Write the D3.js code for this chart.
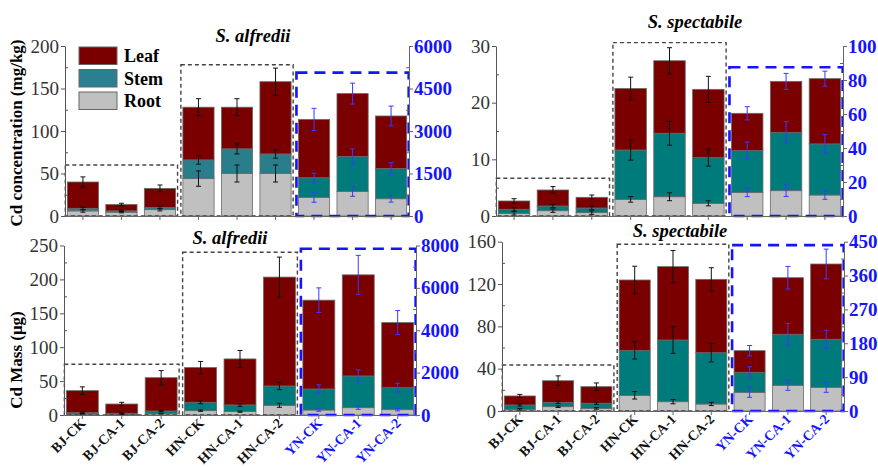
<!DOCTYPE html>
<html lang="en">
<head>
<meta charset="UTF-8">
<title>Cd stacked bars</title>
<script src="https://d3js.org/d3.v7.min.js"></script>
<style>
  body { margin: 0; background: #fff; }
  text { font-family: "Liberation Serif", "Times New Roman", serif; }
</style>
</head>
<body>
<script>
const categories = ["BJ-CK", "BJ-CA-1", "BJ-CA-2", "HN-CK", "HN-CA-1", "HN-CA-2", "YN-CK", "YN-CA-1", "YN-CA-2"];
const parts = ["Root", "Stem", "Leaf"];

// Cd concentration, S. alfredii (YN values on right axis)
const concAlfRoot = [6, 4.5, 7.5, 44, 50, 50, 660, 870, 610];
const concAlfStem = [3, 1.5, 2.5, 22, 29, 23, 690, 1230, 1070];
const concAlfLeaf = [31, 7.5, 22.5, 62, 49, 85, 2060, 2220, 1850];
const concAlfRootErr = [1.5, 0.8, 1.5, 9, 10, 10, 175, 175, 120];
const concAlfStemErr = [1.5, 0.8, 1.5, 5, 6, 5, 160, 265, 200];
const concAlfLeafErr = [6, 1.5, 4, 10, 10, 16, 390, 370, 350];

// Cd concentration, S. spectabile
const concSpeRoot = [0.47, 0.94, 0.59, 2.94, 3.4, 2.24, 13.9, 14.9, 12.35];
const concSpeStem = [0.71, 0.82, 0.82, 8.71, 11.2, 8.06, 24.7, 34.3, 30.05];
const concSpeLeaf = [1.47, 2.83, 1.89, 10.85, 12.8, 12.05, 21.8, 30.0, 38.4];
const concSpeRootErr = [0.3, 0.3, 0.3, 0.5, 0.7, 0.45, 2.5, 3.4, 2.5];
const concSpeStemErr = [0.3, 0.3, 0.3, 1.8, 2.1, 1.5, 4.9, 6.3, 5.4];
const concSpeLeafErr = [0.4, 0.6, 0.4, 2.0, 2.3, 2.3, 3.9, 4.7, 4.4];

// Cd mass, S. alfredii
const massAlfRoot = [1.5, 1, 2, 6.4, 5, 14.3, 236, 346, 252];
const massAlfStem = [1.9, 1.5, 3.9, 12.3, 9.8, 28.5, 992, 1497, 1038];
const massAlfLeaf = [32.5, 13.7, 49.1, 51.3, 67.9, 160.6, 4192, 4772, 3071];
const massAlfRootErr = [0.5, 0.3, 0.5, 1, 1, 3, 60, 80, 60];
const massAlfStemErr = [0.8, 0.5, 1, 2, 2, 5.4, 195, 290, 210];
const massAlfLeafErr = [5.6, 2.5, 10.5, 9, 12.5, 29.5, 580, 920, 567];

// Cd mass, S. spectabile
const massSpeRoot = [1.6, 4.1, 2.5, 14.8, 8.8, 6.6, 49.7, 68.3, 63];
const massSpeStem = [4.1, 4.1, 4.8, 42.5, 58.3, 48.5, 53.2, 135.6, 127.6];
const massSpeLeaf = [8.5, 20.4, 15.7, 66.5, 69.3, 69.3, 57.4, 150.4, 200.1];
const massSpeRootErr = [0.8, 0.8, 0.8, 3.5, 2, 1.5, 13.3, 13.3, 13.3];
const massSpeStemErr = [1, 1, 1, 8.2, 12.6, 8.7, 14.6, 28.8, 24];
const massSpeLeafErr = [1.5, 4.6, 3.5, 13, 15.3, 11, 13.8, 30, 39.5];

// axis ticks
const ticksConcAlfL = [0, 50, 100, 150, 200];
const ticksConcAlfR = [0, 1500, 3000, 4500, 6000];
const ticksConcSpeL = [0, 10, 20, 30];
const ticksConcSpeR = [0, 20, 40, 60, 80, 100];
const ticksMassAlfL = [0, 50, 100, 150, 200, 250];
const ticksMassAlfR = [0, 2000, 4000, 6000, 8000];
const ticksMassSpeL = [0, 40, 80, 120, 160];
const ticksMassSpeR = [0, 90, 180, 270, 360, 450];

const W = 878, H = 467;
const leafColor = "#7a0000", rootColor = "#c0c0c0";
const blue = "#1414ff";

const svg = d3.select("body").append("svg").attr("width", W).attr("height", H);

const panels = [
  { x0: 65, x1: 409, y0: 46, y1: 216, title: "S. alfredii", tx: 253, ty: 42,
    vals: [concAlfRoot, concAlfStem, concAlfLeaf], errs: [concAlfRootErr, concAlfStemErr, concAlfLeafErr],
    lt: ticksConcAlfL, rt: ticksConcAlfR, boxes: [60, 178, 5060], stemA: "#2a7e8b", labels: false },
  { x0: 496, x1: 843, y0: 46, y1: 216, title: "S. spectabile", tx: 695, ty: 28,
    vals: [concSpeRoot, concSpeStem, concSpeLeaf], errs: [concSpeRootErr, concSpeStemErr, concSpeLeafErr],
    lt: ticksConcSpeL, rt: ticksConcSpeR, boxes: [6.65, 30.6, 87.5], stemA: "#007b7b", labels: false },
  { x0: 64, x1: 416, y0: 245.5, y1: 415, title: "S. alfredii", tx: 230, ty: 244,
    vals: [massAlfRoot, massAlfStem, massAlfLeaf], errs: [massAlfRootErr, massAlfStemErr, massAlfLeafErr],
    lt: ticksMassAlfL, rt: ticksMassAlfR, boxes: [74.8, 240, 7845], stemA: "#007b7b", labels: true },
  { x0: 502, x1: 844, y0: 241.7, y1: 411, title: "S. spectabile", tx: 680, ty: 237,
    vals: [massSpeRoot, massSpeStem, massSpeLeaf], errs: [massSpeRootErr, massSpeStemErr, massSpeLeafErr],
    lt: ticksMassSpeL, rt: ticksMassSpeR, boxes: [43.5, 157.6, 441], stemA: "#007b7b", labels: true }
];

function minorTicks(t) {
  const out = [];
  for (let i = 0; i < t.length - 1; i++) out.push((t[i] + t[i + 1]) / 2);
  return out;
}

panels.forEach(p => {
  const g = svg.append("g");
  const x = d3.scaleBand().domain(categories).range([p.x0, p.x1]).paddingInner(0.19).paddingOuter(0.06);
  const yL = d3.scaleLinear().domain([0, p.lt[p.lt.length - 1]]).range([p.y1, p.y0]);
  const yR = d3.scaleLinear().domain([0, p.rt[p.rt.length - 1]]).range([p.y1, p.y0]);
  const yOf = i => (i >= 6 ? yR : yL);

  // stacked data
  const rows = categories.map((c, i) => ({ cat: c, i: i, Root: p.vals[0][i], Stem: p.vals[1][i], Leaf: p.vals[2][i] }));
  const stack = d3.stack().keys(parts)(rows);
  const colorOf = (key, i) => key === "Leaf" ? leafColor : key === "Root" ? rootColor : (i >= 6 ? "#007b7b" : p.stemA);

  stack.forEach(layer => {
    g.selectAll(null).data(layer).enter().append("rect")
      .attr("x", d => x(d.data.cat))
      .attr("width", x.bandwidth())
      .attr("y", d => yOf(d.data.i)(d[1]))
      .attr("height", d => yOf(d.data.i)(d[0]) - yOf(d.data.i)(d[1]))
      .attr("fill", d => colorOf(layer.key, d.data.i))
      .attr("stroke", "#6a6a6a")
      .attr("stroke-width", 0.8);
  });

  // error bars at top of each segment
  stack.forEach((layer, k) => {
    const eb = g.selectAll(null).data(layer).enter().append("g")
      .attr("stroke", d => d.data.i >= 6 ? "#3a3aff" : "#111")
      .attr("stroke-width", 1);
    const cx = d => x(d.data.cat) + x.bandwidth() / 2;
    const e = d => p.errs[k][d.data.i];
    eb.append("line")
      .attr("x1", cx).attr("x2", cx)
      .attr("y1", d => yOf(d.data.i)(d[1] + e(d)))
      .attr("y2", d => yOf(d.data.i)(Math.max(0, d[1] - e(d))));
    [1, -1].forEach(s => {
      eb.append("line")
        .attr("x1", d => cx(d) - 2.5).attr("x2", d => cx(d) + 2.5)
        .attr("y1", d => yOf(d.data.i)(d[1] + s * e(d)))
        .attr("y2", d => yOf(d.data.i)(d[1] + s * e(d)));
    });
  });

  // dashed group boxes
  const groups = [[0, 2], [3, 5], [6, 8]];
  groups.forEach((gr, j) => {
    const left = x(categories[gr[0]]) - 2;
    const right = x(categories[gr[1]]) + x.bandwidth() + 2;
    const top = (j === 2 ? yR : yL)(p.boxes[j]);
    g.append("rect")
      .attr("x", left).attr("y", top)
      .attr("width", right - left).attr("height", p.y1 - top)
      .attr("fill", "none")
      .attr("stroke", j === 2 ? blue : "#444")
      .attr("stroke-width", j === 2 ? 2.6 : 1.4)
      .attr("stroke-dasharray", j === 2 ? "11,7" : "4,3");
  });

  // bottom axis
  const xAxis = g.append("g").attr("transform", "translate(0," + p.y1 + ")")
    .call(d3.axisBottom(x).tickSize(4).tickSizeOuter(0).tickFormat(""));
  xAxis.select(".domain").attr("stroke", "#666");
  xAxis.selectAll(".tick line").attr("stroke", "#666");

  if (p.labels) {
    g.selectAll(null).data(categories).enter().append("text")
      .attr("transform", d => "translate(" + (x(d) + x.bandwidth() / 2 + 4) + "," + (p.y1 + 9) + ") rotate(-45)")
      .attr("text-anchor", "end")
      .attr("font-size", 14)
      .attr("font-weight", "bold")
      .attr("fill", (d, i) => i >= 6 ? blue : "#111")
      .text(d => d);
  }

  // left axis
  const la = g.append("g").attr("transform", "translate(" + p.x0 + ",0)")
    .call(d3.axisLeft(yL).tickValues(p.lt).tickSize(4).tickSizeOuter(0).tickPadding(2).tickFormat(d3.format("d")));
  la.selectAll("text").attr("font-size", 19).attr("fill", "#333");
  la.select(".domain").attr("stroke", "#555");
  la.selectAll(".tick line").attr("stroke", "#555");
  g.append("g").attr("transform", "translate(" + p.x0 + ",0)")
    .call(d3.axisRight(yL).tickValues(minorTicks(p.lt)).tickSize(3).tickFormat(""))
    .call(a => a.select(".domain").remove())
    .selectAll("line").attr("stroke", "#555");

  // right axis
  const ra = g.append("g").attr("transform", "translate(" + p.x1 + ",0)")
    .call(d3.axisRight(yR).tickValues(p.rt).tickSize(4).tickSizeOuter(0).tickPadding(1).tickFormat(d3.format("d")));
  ra.selectAll("text").attr("font-size", 19).attr("font-weight", "bold").attr("fill", blue);
  ra.select(".domain").attr("stroke", "#666");
  ra.selectAll(".tick line").attr("stroke", "#666");
  g.append("g").attr("transform", "translate(" + p.x1 + ",0)")
    .call(d3.axisLeft(yR).tickValues(minorTicks(p.rt)).tickSize(3).tickFormat(""))
    .call(a => a.select(".domain").remove())
    .selectAll("line").attr("stroke", "#666");

  // title
  g.append("text").attr("x", p.tx).attr("y", p.ty)
    .attr("text-anchor", "middle").attr("font-size", 18.5)
    .attr("font-weight", "bold").attr("font-style", "italic")
    .text(p.title);
});

// y-axis labels
svg.append("text").attr("transform", "translate(22,133) rotate(-90)")
  .attr("text-anchor", "middle").attr("font-size", 17).attr("font-weight", "bold")
  .text("Cd concentration (mg/kg)");
svg.append("text").attr("transform", "translate(22,360) rotate(-90)")
  .attr("text-anchor", "middle").attr("font-size", 17).attr("font-weight", "bold")
  .text("Cd Mass (μg)");

// legend
const legendColors = { Leaf: leafColor, Stem: "#2a8090", Root: rootColor };
const lg = svg.append("g").attr("transform", "translate(79,47)");
["Leaf", "Stem", "Root"].forEach((k, i) => {
  lg.append("rect").attr("x", 0).attr("y", i * 22.5).attr("width", 38).attr("height", 17.5)
    .attr("fill", legendColors[k]).attr("stroke", "#666").attr("stroke-width", 1);
  lg.append("text").attr("x", 45).attr("y", i * 22.5 + 15).attr("font-size", 18).attr("font-weight", "bold")
    .text(k);
});
</script>
</body>
</html>
